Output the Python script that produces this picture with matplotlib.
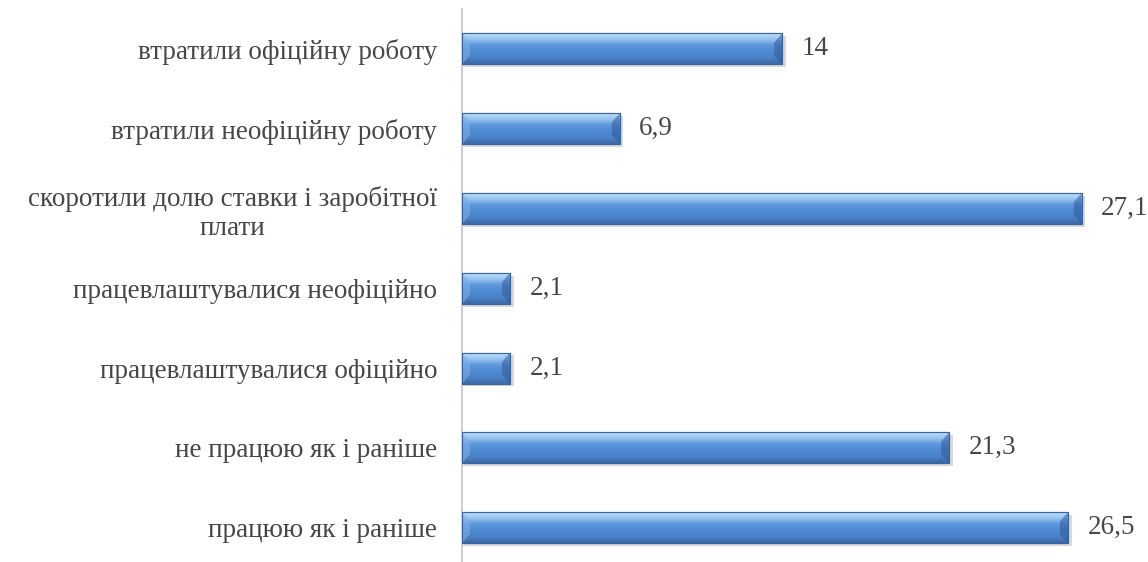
import matplotlib
matplotlib.use('Agg')
import matplotlib.pyplot as plt
import numpy as np
from matplotlib.colors import LinearSegmentedColormap
from matplotlib.patches import Polygon

# Data (bottom to top)
categories = ['працюю як і раніше', 'не працюю як і раніше', 'працевлаштувалися офіційно',
              'працевлаштувалися неофіційно', 'скоротили долю ставки і заробітної\nплати',
              'втратили неофіційну роботу', 'втратили офіційну роботу']
values = [26.5, 21.3, 2.1, 2.1, 27.1, 6.9, 14]
value_labels = ['26,5', '21,3', '2,1', '2,1', '27,1', '6,9', '14']

plt.rcParams['font.family'] = ['Liberation Serif', 'DejaVu Serif']
txt_color = '#474747'
fs = 19.5

fig = plt.figure(figsize=(11.48, 5.62), dpi=100)
ax = fig.add_axes([462/1148, 0, 686/1148, 1 - 9/562])

y = np.arange(len(values))
bars = ax.barh(y, values, height=0.39, color='#4F86CC', edgecolor='#3A64A0', linewidth=0.8, zorder=3)

# bevel-like gradient fill
cmap = LinearSegmentedColormap.from_list('bevel', ['#3C69A6', '#4A82C8', '#4F8AD2', '#5E98DC', '#9CC7F2', '#BFDDF8'])
grad = np.linspace(0, 1, 100).reshape(-1, 1)
for b in bars:
    x0, y0 = b.get_x(), b.get_y()
    w, h = b.get_width(), b.get_height()
    # soft shadow
    ax.barh(y0 + h/2 - 0.035, w + 0.12, height=h, left=x0 + 0.04, color='#000000', alpha=0.15, linewidth=0, zorder=2)
    im = ax.imshow(grad, extent=(x0, x0 + w, y0, y0 + h), origin='lower', cmap=cmap,
                   aspect='auto', zorder=4, interpolation='bilinear')
    im.set_clip_path(b)
    # bevelled ends
    d = min(0.35, w / 4)
    e = h * 0.3
    ax.add_patch(Polygon([(x0, y0), (x0 + d, y0 + e), (x0 + d, y0 + h - e), (x0, y0 + h)],
                         closed=True, color='#7FAEE6', alpha=0.6, lw=0, zorder=4.5))
    ax.add_patch(Polygon([(x0 + w, y0), (x0 + w - d, y0 + e), (x0 + w - d, y0 + h - e), (x0 + w, y0 + h)],
                         closed=True, color='#2F5A96', alpha=0.55, lw=0, zorder=4.5))
    ax.barh(y0 + h/2, w, height=h, left=x0, color='none', edgecolor='#3A64A0', linewidth=0.8, zorder=5)

for yi, v, lab in zip(y, values, value_labels):
    ax.annotate(lab, (v, yi), xytext=(14, 0), textcoords='offset points',
                va='center', ha='left', fontsize=fs, color=txt_color)

ax.set_xlim(0, 30)
ax.set_ylim(-0.43, 6.5)
ax.set_yticks(y)
ax.set_yticklabels(categories, fontsize=fs, color=txt_color, multialignment='center', linespacing=1.2)
ax.tick_params(axis='y', length=0, pad=18)
ax.set_xticks([])
for s in ['top', 'right', 'bottom']:
    ax.spines[s].set_visible(False)
ax.spines['left'].set_color('#C8C8C8')
ax.spines['left'].set_linewidth(1.3)

fig.savefig('out.png', dpi=100)
